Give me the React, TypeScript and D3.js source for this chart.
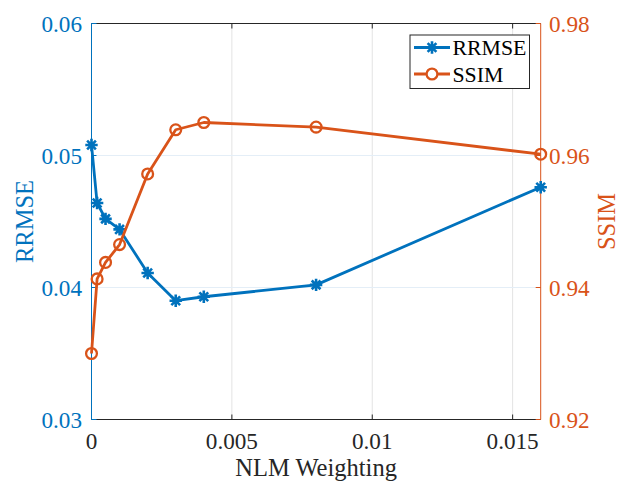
import React from "react";
import * as d3 from "d3";

// NLM weighting values (x) and the two metrics
const weights = [0, 0.0002, 0.0005, 0.001, 0.002, 0.003, 0.004, 0.008, 0.016];
const rrmse = [0.0508, 0.0464, 0.0452, 0.0444, 0.0411, 0.039, 0.0393, 0.0402, 0.0476];
const ssim = [0.93, 0.9413, 0.9438, 0.9465, 0.9572, 0.9639, 0.965, 0.9643, 0.9602];

const xTicks = [0, 0.005, 0.01, 0.015];
const leftTicks = [0.03, 0.04, 0.05, 0.06];
const rightTicks = [0.92, 0.94, 0.96, 0.98];

const BLUE = "#0072BD";
const ORANGE = "#D95319";
const DARK = "#262626";
const FONT = "Liberation Serif, DejaVu Serif, serif";

const width = 621;
const height = 483;
const left = 91.5;
const right = 540.7;
const top = 23.5;
const bottom = 419.5;

const tickSize = 23.2;
const labelSize = 24.5;

function asterisk(cx: number, cy: number, r: number) {
  const d = r * 0.7071;
  return `M${cx - r},${cy}L${cx + r},${cy}M${cx},${cy - r}L${cx},${cy + r}` +
    `M${cx - d},${cy - d}L${cx + d},${cy + d}M${cx - d},${cy + d}L${cx + d},${cy - d}`;
}

export default function App() {
  const x = d3.scaleLinear().domain([0, 0.016]).range([left, right]);
  const yL = d3.scaleLinear().domain([0.03, 0.06]).range([bottom, top]);
  const yR = d3.scaleLinear().domain([0.92, 0.98]).range([bottom, top]);

  const lineL = d3.line<number>().x((_, i) => x(weights[i])).y((d) => yL(d));
  const lineR = d3.line<number>().x((_, i) => x(weights[i])).y((d) => yR(d));

  const tickLen = 5;
  const txt = { fontFamily: FONT };

  return (
    <svg
      width={width}
      height={height}
      style={{ position: "absolute", left: 0, top: 0, background: "#fff", fontFamily: FONT }}
    >
      {/* grid */}
      {xTicks.slice(1).map((t) => (
        <line key={"gx" + t} x1={x(t)} x2={x(t)} y1={top} y2={bottom} stroke="#e3e3e3" strokeWidth={1} />
      ))}
      {leftTicks.slice(1, -1).map((t) => (
        <line key={"gy" + t} x1={left} x2={right} y1={yL(t)} y2={yL(t)} stroke="#e4eef7" strokeWidth={1.2} />
      ))}

      {/* box: top and bottom */}
      <line x1={left} x2={right} y1={top} y2={top} stroke={DARK} strokeWidth={1} />
      <line x1={left} x2={right} y1={bottom} y2={bottom} stroke={DARK} strokeWidth={1} />
      {xTicks.map((t) => (
        <g key={"xt" + t}>
          <line x1={x(t)} x2={x(t)} y1={bottom} y2={bottom - tickLen} stroke={DARK} />
          <line x1={x(t)} x2={x(t)} y1={top} y2={top + tickLen} stroke={DARK} />
          <text x={x(t)} y={448.5} textAnchor="middle" fontSize={tickSize} fill={DARK} style={txt}>
            {t}
          </text>
        </g>
      ))}

      {/* left axis */}
      <line x1={left} x2={left} y1={top} y2={bottom} stroke={BLUE} strokeWidth={1} />
      {leftTicks.map((t) => (
        <g key={"lt" + t}>
          <line x1={left} x2={left + tickLen} y1={yL(t)} y2={yL(t)} stroke={BLUE} />
          <text x={82} y={yL(t)} dy="0.35em" textAnchor="end" fontSize={tickSize} fill={BLUE} style={txt}>
            {t.toFixed(2)}
          </text>
        </g>
      ))}
      <text
        transform={`translate(33,${(top + bottom) / 2}) rotate(-90)`}
        textAnchor="middle"
        fontSize={labelSize}
        fill={BLUE}
        style={txt}
      >
        RRMSE
      </text>

      {/* right axis */}
      <line x1={right} x2={right} y1={top} y2={bottom} stroke={ORANGE} strokeWidth={1} />
      {rightTicks.map((t) => (
        <g key={"rt" + t}>
          <line x1={right} x2={right - tickLen} y1={yR(t)} y2={yR(t)} stroke={ORANGE} />
          <text x={549} y={yR(t)} dy="0.35em" textAnchor="start" fontSize={tickSize} fill={ORANGE} style={txt}>
            {t.toFixed(2)}
          </text>
        </g>
      ))}
      <text
        transform={`translate(615,${(top + bottom) / 2}) rotate(-90)`}
        textAnchor="middle"
        fontSize={labelSize}
        fill={ORANGE}
        style={txt}
      >
        SSIM
      </text>

      <text x={(left + right) / 2} y={475.5} textAnchor="middle" fontSize={labelSize} fill={DARK} style={txt}>
        NLM Weighting
      </text>

      {/* series */}
      <path d={lineL(rrmse) ?? ""} fill="none" stroke={BLUE} strokeWidth={2.8} strokeLinejoin="round" />
      {rrmse.map((v, i) => (
        <path key={"a" + i} d={asterisk(x(weights[i]), yL(v), 6.2)} stroke={BLUE} strokeWidth={2.6} />
      ))}
      <path d={lineR(ssim) ?? ""} fill="none" stroke={ORANGE} strokeWidth={2.8} strokeLinejoin="round" />
      {ssim.map((v, i) => (
        <circle key={"c" + i} cx={x(weights[i])} cy={yR(v)} r={5.4} fill="none" stroke={ORANGE} strokeWidth={2.3} />
      ))}

      {/* legend */}
      <rect x={410} y={35} width={119.5} height={53.5} fill="#fff" stroke={DARK} strokeWidth={1} />
      <line x1={414} x2={450} y1={47.5} y2={47.5} stroke={BLUE} strokeWidth={2.8} />
      <path d={asterisk(432, 47.5, 6.2)} stroke={BLUE} strokeWidth={2.6} />
      <text x={452.5} y={47.5} dy="0.35em" fontSize={21.8} fill="#000" style={txt}>
        RRMSE
      </text>
      <line x1={414} x2={450} y1={74} y2={74} stroke={ORANGE} strokeWidth={2.8} />
      <circle cx={432} cy={74} r={5.4} fill="#fff" stroke={ORANGE} strokeWidth={2.3} />
      <text x={452.5} y={74} dy="0.35em" fontSize={21.8} fill="#000" style={txt}>
        SSIM
      </text>
    </svg>
  );
}
